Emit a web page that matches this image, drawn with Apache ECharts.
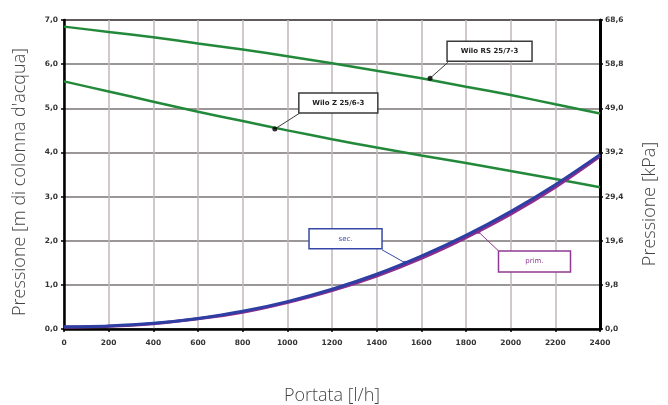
<!DOCTYPE html>
<html>
<head>
<meta charset="utf-8">
<script src="https://cdn.jsdelivr.net/npm/echarts@6/dist/echarts.min.js"></script>
<style>
html,body{margin:0;padding:0;background:#fff;}
#c{width:668px;height:405px;}
</style>
</head>
<body>
<div id="c"></div>
<script>
// ---- data ----
const flowValues = [0, 200, 400, 600, 800, 1000, 1200, 1400, 1600, 1800, 2000, 2200, 2400];
const wiloRsValues = [6.85, 6.73, 6.61, 6.47, 6.33, 6.18, 6.02, 5.85, 5.68, 5.49, 5.30, 5.09, 4.88];
const wiloZValues = [5.61, 5.38, 5.15, 4.92, 4.71, 4.50, 4.30, 4.11, 3.93, 3.76, 3.58, 3.40, 3.21];
const secValues = [0.05, 0.07, 0.13, 0.24, 0.40, 0.62, 0.90, 1.24, 1.65, 2.12, 2.66, 3.27, 3.95];
const primValues = [0.04, 0.06, 0.12, 0.23, 0.38, 0.60, 0.87, 1.20, 1.60, 2.07, 2.60, 3.21, 3.91];
const annotationLabels = ['Wilo RS 25/7-3', 'Wilo Z 25/6-3', 'sec.', 'prim.'];
const annotationPoints = [[1639, 5.68], [944, 4.53], [1527, 1.50], [1856, 2.20]];
const xAxisTitle = 'Portata [l/h]';
const leftAxisTitle = "Pressione [m di colonna d'acqua]";
const rightAxisTitle = 'Pressione [kPa]';

function pair(xs, ys) { return xs.map((x, i) => [x, ys[i]]); }
const comma = v => v.toFixed(1).replace('.', ',');

const chart = echarts.init(document.getElementById('c'));
const tickFont = { fontFamily: 'DejaVu Sans', fontSize: 7.5, color: '#333', fontWeight: 'bold' };

chart.setOption({
  animation: false,
  grid: { left: 64, right: 68, top: 20, bottom: 76, containLabel: false, outerBoundsMode: 'none',
    show: true, borderColor: '#111', borderWidth: 2, backgroundColor: '#fff' },
  xAxis: {
    type: 'value', min: 0, max: 2400, interval: 200,
    name: xAxisTitle, nameLocation: 'middle', nameGap: 58,
    nameTextStyle: { fontFamily: 'Open Sans', fontWeight: 300, fontSize: 18, color: '#444' },
    axisLine: { lineStyle: { color: '#000', width: 2.5 } },
    axisTick: { show: true, length: 3, lineStyle: { color: '#000', width: 1.5 } },
    axisLabel: Object.assign({ margin: 10, formatter: v => String(v) }, tickFont),
    splitLine: { show: true, lineStyle: { color: '#bfb7ba', width: 1.5 } }
  },
  yAxis: [{
    type: 'value', min: 0, max: 7, interval: 1, position: 'left',
    axisLine: { show: true, lineStyle: { color: '#000', width: 2.5 } },
    axisTick: { show: true, length: 3, lineStyle: { color: '#000', width: 1.5 } },
    axisLabel: Object.assign({ margin: 6, formatter: comma }, tickFont),
    splitLine: { show: true, lineStyle: { color: '#7b7474', width: 1.5 } }
  }, {
    type: 'value', min: 0, max: 68.6, interval: 9.8, position: 'right',
    axisLine: { show: true, lineStyle: { color: '#000', width: 3 } },
    axisTick: { show: true, length: 3, lineStyle: { color: '#000', width: 1.5 } },
    axisLabel: Object.assign({ margin: 5, formatter: comma }, tickFont),
    splitLine: { show: false }
  }],
  series: [
    { type: 'line', data: pair(flowValues, wiloRsValues), smooth: 0.3, symbol: 'none', lineStyle: { color: '#23893a', width: 2.5 }, z: 3 },
    { type: 'line', data: pair(flowValues, wiloZValues), smooth: 0.3, symbol: 'none', lineStyle: { color: '#23893a', width: 2.5 }, z: 3 },
    { type: 'line', data: pair(flowValues, primValues), smooth: 0.3, symbol: 'none', lineStyle: { color: '#8c2c8e', width: 3 }, z: 3 },
    { type: 'line', data: pair(flowValues, secValues), smooth: 0.3, symbol: 'none', lineStyle: { color: '#2e3fa4', width: 3 }, z: 4 },
    { type: 'scatter', data: annotationPoints.slice(0, 2), symbolSize: 5, itemStyle: { color: '#000' }, z: 6 },
    { type: 'scatter', data: [annotationPoints[2]], symbolSize: 4, itemStyle: { color: '#2e3fa4' }, z: 6 },
    { type: 'scatter', data: [annotationPoints[3]], symbolSize: 4, itemStyle: { color: '#8c2c8e' }, z: 6 }
  ]
});

// annotation boxes placed relative to their data anchors
const boxLayout = [
  { dx: 17, dy: -37, w: 85, h: 20, lx: 18, ly: -16, border: '#3a3a3a', color: '#222', weight: 'bold', size: 7 },
  { dx: 24, dy: -36, w: 79, h: 20, lx: 25, ly: -16, border: '#3a3a3a', color: '#222', weight: 'bold', size: 7 },
  { dx: -96, dy: -34, w: 73, h: 20, lx: -23, ly: -13, border: '#3848a8', color: '#3848a8', weight: 'normal', size: 7 },
  { dx: 20, dy: 19, w: 72, h: 21, lx: 20, ly: 19, border: '#8e3a90', color: '#8e3a90', weight: 'normal', size: 7 }
];
const graphics = [];
annotationPoints.forEach((p, i) => {
  const m = chart.convertToPixel({ gridIndex: 0 }, p);
  const b = boxLayout[i];
  graphics.push({ type: 'line', z: 5, shape: { x1: m[0], y1: m[1], x2: m[0] + b.lx, y2: m[1] + b.ly }, style: { stroke: b.border, lineWidth: 1 } });
  graphics.push({ type: 'rect', z: 7, shape: { x: m[0] + b.dx, y: m[1] + b.dy, width: b.w, height: b.h }, style: { fill: '#fff', stroke: b.border, lineWidth: 1.5 } });
  graphics.push({ type: 'text', z: 8, x: m[0] + b.dx + b.w / 2, y: m[1] + b.dy + b.h / 2,
    style: { text: annotationLabels[i], fill: b.color, font: b.weight + ' ' + b.size + 'px "DejaVu Sans"', textAlign: 'center', textVerticalAlign: 'middle' } });
});
graphics.push({ type: 'text', x: 20, y: 182, rotation: Math.PI / 2,
  style: { text: leftAxisTitle, fill: '#444', font: '300 18px "Open Sans"', textAlign: 'center', textVerticalAlign: 'middle' } });
graphics.push({ type: 'text', x: 650, y: 204, rotation: Math.PI / 2,
  style: { text: rightAxisTitle, fill: '#444', font: '300 18px "Open Sans"', textAlign: 'center', textVerticalAlign: 'middle' } });
chart.setOption({ graphic: graphics });
</script>
</body>
</html>
